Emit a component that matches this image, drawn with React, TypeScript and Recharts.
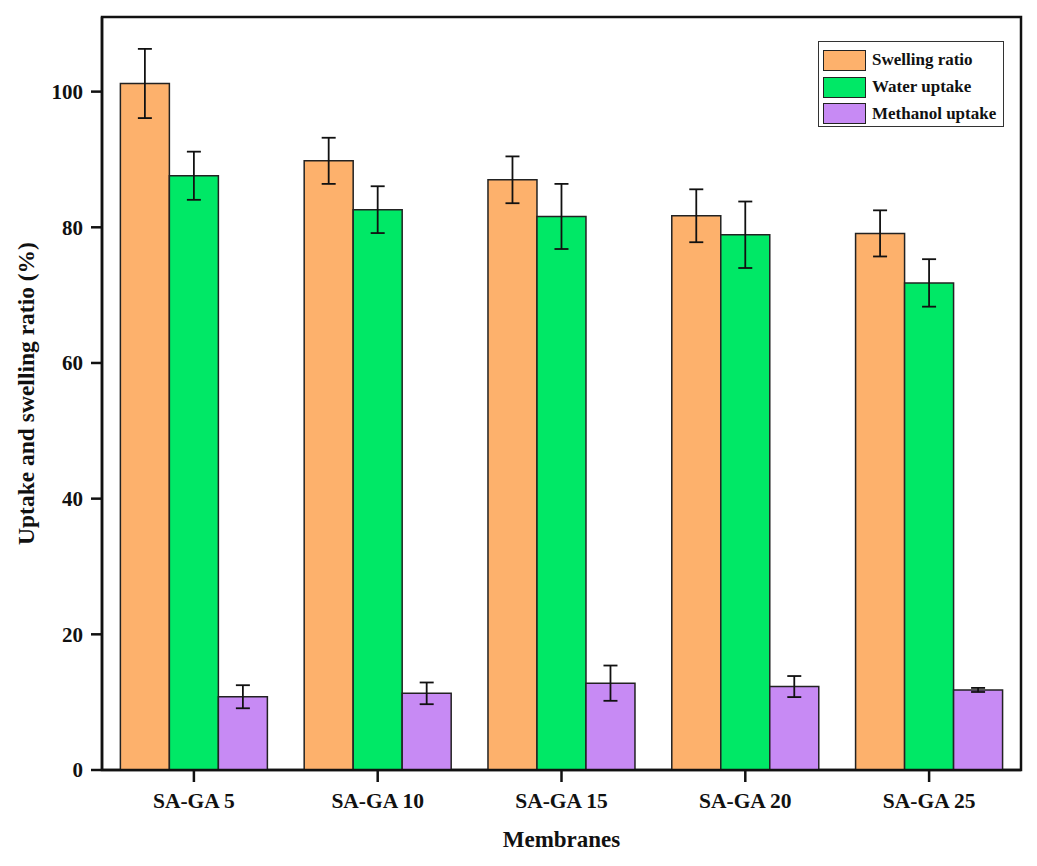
import React from 'react';
import { BarChart, Bar, XAxis, YAxis, ErrorBar, ReferenceArea, Label } from 'recharts';

const categories = ['SA-GA 5', 'SA-GA 10', 'SA-GA 15', 'SA-GA 20', 'SA-GA 25'];
const swelling = [101.2, 89.8, 87.0, 81.7, 79.1];
const swellingErr = [5.1, 3.4, 3.45, 3.9, 3.4];
const water = [87.6, 82.6, 81.6, 78.9, 71.8];
const waterErr = [3.55, 3.45, 4.8, 4.9, 3.5];
const methanol = [10.8, 11.3, 12.8, 12.3, 11.8];
const methanolErr = [1.7, 1.6, 2.6, 1.55, 0.3];
const yTicks = [0, 20, 40, 60, 80, 100];

const seriesNames = ['Swelling ratio', 'Water uptake', 'Methanol uptake'];
const colors = ['#FDB16C', '#00E866', '#C78AF4'];

const data = categories.map((c, i) => ({
  name: c,
  swelling: swelling[i],
  swellingErr: swellingErr[i],
  water: water[i],
  waterErr: waterErr[i],
  methanol: methanol[i],
  methanolErr: methanolErr[i],
}));

const font = "'Liberation Serif', 'Times New Roman', serif";

const LegendBox = () => (
  <div
    style={{
      position: 'absolute',
      left: 818,
      top: 41,
      width: 186,
      height: 86,
      border: '1.5px solid #333',
      background: '#fff',
      boxSizing: 'border-box',
      padding: '5px 0 0 4px',
      fontFamily: font,
      fontWeight: 'bold',
      fontSize: 17,
      color: '#111',
    }}
  >
    {seriesNames.map((n, i) => (
      <div key={n} style={{ display: 'flex', alignItems: 'center', height: 26.7 }}>
        <div
          style={{
            width: 43,
            height: 21,
            background: colors[i],
            border: '1.5px solid #222',
            boxSizing: 'border-box',
            marginRight: 6,
          }}
        />
        <span style={{ whiteSpace: 'nowrap' }}>{n}</span>
      </div>
    ))}
  </div>
);

export default function App() {
  return (
    <div style={{ position: 'absolute', left: 0, top: 0, width: 1037, height: 866, background: '#fff' }}>
      <BarChart
        width={1037}
        height={866}
        data={data}
        margin={{ top: 17, right: 16, left: 0, bottom: 0 }}
        barCategoryGap="10%"
        barGap={0}
      >
        <XAxis
          dataKey="name"
          height={96}
          axisLine={{ stroke: '#111', strokeWidth: 2.5 }}
          tickLine={{ stroke: '#111', strokeWidth: 2.5 }}
          tickSize={12}
          tick={{ fill: '#111', fontFamily: font, fontWeight: 'bold', fontSize: 21.5, dy: 9 }}
        >
          <Label
            value="Membranes"
            position="insideBottom"
            offset={19}
            style={{ fill: '#111', fontFamily: font, fontWeight: 'bold', fontSize: 23 }}
          />
        </XAxis>
        <YAxis
          width={102}
          domain={[0, 111]}
          ticks={yTicks}
          axisLine={{ stroke: '#111', strokeWidth: 2.5 }}
          tickLine={{ stroke: '#111', strokeWidth: 2.5 }}
          tickSize={11}
          tick={{ fill: '#111', fontFamily: font, fontWeight: 'bold', fontSize: 21, dx: -6 }}
        >
          <Label
            value="Uptake and swelling ratio (%)"
            angle={-90}
            position="insideLeft"
            offset={26}
            style={{ textAnchor: 'middle', fill: '#111', fontFamily: font, fontWeight: 'bold', fontSize: 23.5 }}
          />
        </YAxis>
        <ReferenceArea y1={0} y2={111} fill="none" stroke="#111" strokeWidth={2.5} ifOverflow="visible" />
        <Bar dataKey="swelling" name={seriesNames[0]} fill={colors[0]} stroke="#222" strokeWidth={1.5} isAnimationActive={false}>
          <ErrorBar dataKey="swellingErr" width={7} stroke="#111" strokeWidth={1.8} />
        </Bar>
        <Bar dataKey="water" name={seriesNames[1]} fill={colors[1]} stroke="#222" strokeWidth={1.5} isAnimationActive={false}>
          <ErrorBar dataKey="waterErr" width={7} stroke="#111" strokeWidth={1.8} />
        </Bar>
        <Bar dataKey="methanol" name={seriesNames[2]} fill={colors[2]} stroke="#222" strokeWidth={1.5} isAnimationActive={false}>
          <ErrorBar dataKey="methanolErr" width={7} stroke="#111" strokeWidth={1.8} />
        </Bar>
      </BarChart>
      <LegendBox />
    </div>
  );
}
